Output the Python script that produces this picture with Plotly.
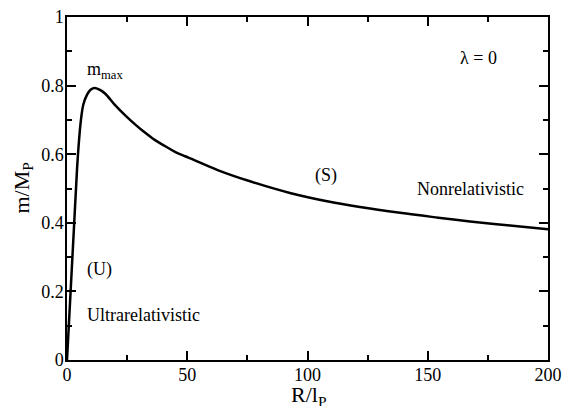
import plotly.graph_objects as go

# Mass-radius relation for lambda = 0 (R in units of l_P, m in units of M_P)
radius = [0, 1.5, 3.0, 4.2, 5.0, 5.8, 6.8, 8.3, 9.8, 11.6, 13.5, 15.8, 20.0,
          24.1, 28.3, 32.4, 36.6, 40.7, 44.9, 49.1, 52.5, 62.9, 76.1, 92.7,
          108.7, 121.8, 138.5, 154.4, 167.6, 184.2, 200.0]
mass = [0, 0.200, 0.400, 0.560, 0.640, 0.700, 0.745, 0.773, 0.788, 0.793,
        0.788, 0.777, 0.743, 0.714, 0.687, 0.663, 0.641, 0.624, 0.607, 0.594,
        0.584, 0.553, 0.521, 0.487, 0.462, 0.446, 0.429, 0.415, 0.404, 0.392,
        0.381]

x_ticks = [0, 50, 100, 150, 200]
y_ticks = [0, 0.2, 0.4, 0.6, 0.8, 1]
y_tick_text = ["0", "0.2", "0.4", "0.6", "0.8", "1"]

FONT = "Liberation Serif"

fig = go.Figure()
fig.add_trace(go.Scatter(
    x=radius, y=mass, mode="lines",
    line=dict(color="black", width=2.5, shape="spline", smoothing=1.0),
    hoverinfo="skip", showlegend=False,
))

axis_common = dict(
    showgrid=False, zeroline=False, automargin=False,
    showline=True, linecolor="black", linewidth=1.5,
    mirror="ticks", ticks="inside", ticklen=9, tickwidth=1.5, tickcolor="black",
    tickfont=dict(family=FONT, size=18, color="black"),
    ticklabelstandoff=-2,
)

fig.update_xaxes(
    range=[0, 200], tickvals=x_ticks, ticktext=[str(v) for v in x_ticks],
    minor=dict(ticks="inside", ticklen=5, tickwidth=1.5, tickcolor="black", dtick=25),
    **axis_common,
)
fig.update_yaxes(
    range=[0, 1], tickvals=y_ticks, ticktext=y_tick_text,
    minor=dict(ticks="inside", ticklen=5, tickwidth=1.5, tickcolor="black", dtick=0.1),
    **axis_common,
)

# Axis titles, placed just outside the frame
title_font = dict(family=FONT, size=22, color="black")
fig.add_annotation(x=0.5, y=0, xref="paper", yref="paper", text="R/l<sub>P</sub>",
                   showarrow=False, font=title_font, xanchor="center",
                   yanchor="middle", xshift=1, yshift=-36)
fig.add_annotation(x=0, y=0.5, xref="paper", yref="paper", text="m/M<sub>P</sub>",
                   showarrow=False, font=title_font, textangle=-90,
                   xanchor="center", yanchor="middle", xshift=-45)

label_font = dict(family=FONT, size=18, color="black")
labels = [
    (15.8, 0.845, "m<sub>max</sub>"),
    (171, 0.88, "λ = 0"),
    (107.7, 0.539, "(S)"),
    (167.6, 0.499, "Nonrelativistic"),
    (13.7, 0.265, "(U)"),
    (31.6, 0.131, "Ultrarelativistic"),
]
for lx, ly, txt in labels:
    fig.add_annotation(x=lx, y=ly, text=txt, showarrow=False, font=label_font,
                       xanchor="center", yanchor="middle")

fig.update_layout(
    width=572, height=406,
    margin=dict(l=67, r=24, t=17, b=46, autoexpand=False),
    paper_bgcolor="white", plot_bgcolor="white",
    font=dict(family=FONT, color="black"),
)

fig.write_html("out.html")
